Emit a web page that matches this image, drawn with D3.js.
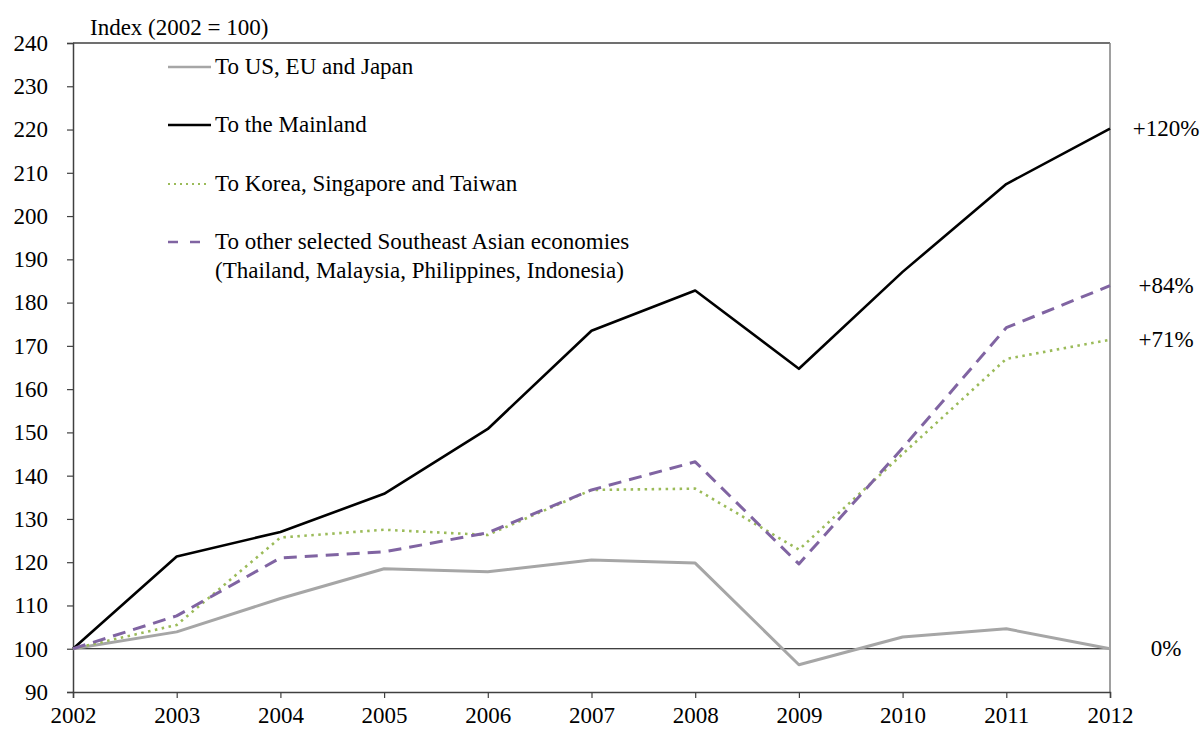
<!DOCTYPE html>
<html>
<head>
<meta charset="utf-8">
<script src="https://cdn.jsdelivr.net/npm/d3@7"></script>
<style>
  body { margin: 0; background: #fff; }
  text { font-family: "Liberation Serif", "Times New Roman", serif; fill: #000; }
</style>
</head>
<body>
<div id="chart"></div>
<script>
// years on x axis
var years = [2002, 2003, 2004, 2005, 2006, 2007, 2008, 2009, 2010, 2011, 2012];

// series values, index 2002 = 100
var usEuJapan = [100, 103.9, 111.6, 118.5, 117.8, 120.5, 119.8, 96.3, 102.7, 104.6, 100];
var mainland = [100, 121.3, 127.0, 135.8, 150.8, 173.5, 182.8, 164.7, 187.1, 207.4, 220.2];
var koreaSgTw = [100, 105.5, 125.7, 127.5, 126.3, 136.7, 137.0, 122.9, 145.0, 167.0, 171.4];
var otherSea = [100, 107.6, 121.0, 122.4, 126.8, 136.7, 143.2, 119.6, 146.4, 174.2, 183.9];

var yTicks = [90, 100, 110, 120, 130, 140, 150, 160, 170, 180, 190, 200, 210, 220, 230, 240];

var seriesNames = [
  "To US, EU and Japan",
  "To the Mainland",
  "To Korea, Singapore and Taiwan",
  "To other selected Southeast Asian economies"
];
var endLabels = ["0%", "+120%", "+71%", "+84%"];

var width = 1200, height = 729;
var margin = {top: 43, right: 90, bottom: 37, left: 73};
var chartWidth = width - margin.left - margin.right;
var chartHeight = height - margin.top - margin.bottom;
var fontSize = "23px";

var svg = d3.select("#chart").append("svg")
    .attr("width", width)
    .attr("height", height);

var g = svg.append("g")
    .attr("transform", `translate(${margin.left}, ${margin.top})`);

var xScale = d3.scaleLinear().domain([2002, 2012]).range([0, chartWidth]);
var yScale = d3.scaleLinear().domain([90, 240]).range([chartHeight, 0]);

// frame top + right
g.append("line")
    .attr("x1", 0).attr("x2", chartWidth)
    .attr("y1", 0).attr("y2", 0)
    .attr("stroke", "#404040").attr("stroke-width", 1.5);
g.append("line")
    .attr("x1", chartWidth).attr("x2", chartWidth)
    .attr("y1", 0).attr("y2", chartHeight)
    .attr("stroke", "#808080").attr("stroke-width", 1.5);

// 100 base line
g.append("line")
    .attr("x1", 0).attr("x2", chartWidth)
    .attr("y1", yScale(100)).attr("y2", yScale(100))
    .attr("stroke", "#000").attr("stroke-width", 1.2);

// y axis
var yAxis = d3.axisLeft(yScale).tickValues(yTicks).tickSize(6).tickPadding(19);
var yG = g.append("g").call(yAxis);
yG.select(".domain").attr("stroke", "#404040").attr("stroke-width", 1.5);
yG.selectAll(".tick line").attr("stroke", "#404040").attr("stroke-width", 1.2);
yG.selectAll("text").style("font-size", fontSize).style("font-family", "Liberation Serif");

// x axis
var xAxis = d3.axisBottom(xScale).tickValues(years).tickFormat(d3.format("d")).tickSize(6).tickPadding(9);
var xG = g.append("g").attr("transform", `translate(0, ${chartHeight})`).call(xAxis);
xG.select(".domain").attr("stroke", "#404040").attr("stroke-width", 1.5);
xG.selectAll(".tick line").attr("stroke", "#404040").attr("stroke-width", 1.2);
xG.selectAll("text").style("font-size", fontSize).style("font-family", "Liberation Serif");

// axis title
svg.append("text")
    .attr("x", 90).attr("y", 35)
    .style("font-size", fontSize)
    .text("Index (2002 = 100)");

// series drawing
var styles = [
  {color: "#a6a6a6", width: 3, dash: null},
  {color: "#000000", width: 2.6, dash: null},
  {color: "#9bbb59", width: 2.6, dash: "2.5,4.5"},
  {color: "#8064a2", width: 3, dash: "13,8"}
];
var allSeries = [usEuJapan, mainland, koreaSgTw, otherSea];

var line = d3.line()
    .x((d, i) => xScale(years[i]))
    .y(d => yScale(d));

allSeries.forEach((s, k) => {
  g.append("path")
    .datum(s)
    .attr("fill", "none")
    .attr("stroke", styles[k].color)
    .attr("stroke-width", styles[k].width)
    .attr("stroke-dasharray", styles[k].dash)
    .attr("stroke-linejoin", "round")
    .attr("d", line);
});

// end labels
endLabels.forEach((lab, k) => {
  var s = allSeries[k];
  svg.append("text")
    .attr("x", 1166)
    .attr("y", margin.top + yScale(s[s.length - 1]) + 7)
    .attr("text-anchor", "middle")
    .style("font-size", fontSize)
    .text(lab);
});

// legend
var legendY = [67, 125, 184, 242];
seriesNames.forEach((name, k) => {
  var lg = svg.append("g");
  lg.append("line")
    .attr("x1", 168).attr("x2", k == 3 ? 200 : (k == 2 ? 207 : 211))
    .attr("y1", legendY[k]).attr("y2", legendY[k])
    .attr("stroke", styles[k].color)
    .attr("stroke-width", k == 2 ? 2.2 : 2.6)
    .attr("stroke-dasharray", k == 2 ? "2,4" : (k == 3 ? "10,12" : null));
  lg.append("text")
    .attr("x", 215).attr("y", legendY[k] + 7)
    .style("font-size", fontSize)
    .text(name);
});
svg.append("text")
  .attr("x", 215).attr("y", legendY[3] + 36)
  .style("font-size", fontSize)
  .text("(Thailand, Malaysia, Philippines, Indonesia)");
</script>
</body>
</html>
